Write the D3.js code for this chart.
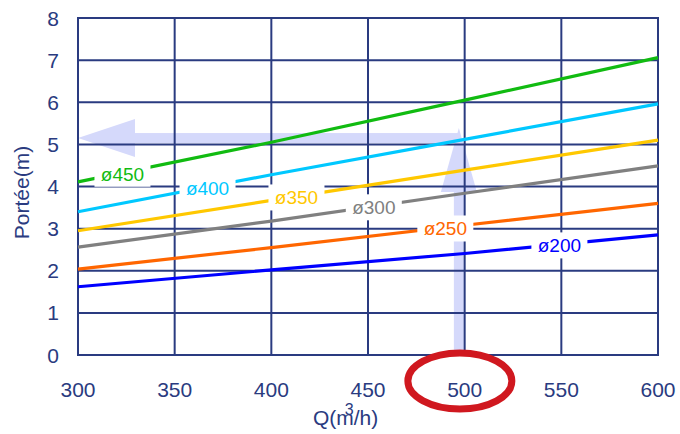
<!DOCTYPE html>
<html>
<head>
<meta charset="utf-8">
<script src="https://cdn.jsdelivr.net/npm/d3@7"></script>
<style>
  body { margin: 0; background: #fff; }
  text { font-family: "Liberation Sans", Arial, sans-serif; }
</style>
</head>
<body>
<svg id="chart" width="680" height="434"></svg>
<script>
const flows = [300, 400, 500, 600]
const diameters = ['ø450', 'ø400', 'ø350', 'ø300', 'ø250', 'ø200']
const colors = ['#11bb11', '#00c8ff', '#ffc800', '#808080', '#ff6600', '#0000ff']
const ranges = [
  [4.11, 5.05, 6.05, 7.06],
  [3.40, 4.28, 5.12, 5.96],
  [2.95, 3.67, 4.39, 5.10],
  [2.56, 3.18, 3.84, 4.49],
  [2.04, 2.55, 3.08, 3.60],
  [1.62, 2.02, 2.41, 2.85]
]
// where each diameter label sits along its line
const labelFlows = [323, 367, 413, 453, 490, 549]
const xTicks = [300, 350, 400, 450, 500, 550, 600]
const yTicks = [0, 1, 2, 3, 4, 5, 6, 7, 8]
const pickFlow = 497
const pickRange = 5.15

const ink = '#2a3b80'
const margin = { left: 78, top: 18, right: 22, bottom: 79 }
const width = 680, height = 434

const svg = d3.select('#chart')
const x = d3.scaleLinear().domain([300, 600]).range([margin.left, width - margin.right])
const y = d3.scaleLinear().domain([0, 8]).range([height - margin.bottom, margin.top])

// reading arrows (behind the grid)
const arrow = svg.append('g').attr('fill', '#d5d9fb')
const ax = x(pickFlow), ay = y(pickRange), y0 = y(0)
arrow.append('rect').attr('x', ax - 5).attr('y', ay + 52).attr('width', 10).attr('height', y0 - ay - 52)
arrow.append('path').attr('d', `M${ax - 18},${ay + 54} L${ax},${ay - 10} L${ax + 18},${ay + 54} Z`)
arrow.append('rect').attr('x', x(300) + 57).attr('y', ay - 5).attr('width', ax + 1 - x(300) - 57).attr('height', 10)
arrow.append('path').attr('d', `M${x(300) + 57},${ay - 19} L${x(300)},${ay} L${x(300) + 57},${ay + 19} Z`)

// grid
const grid = svg.append('g').attr('stroke', ink).attr('stroke-width', 2)
grid.selectAll('.v').data(xTicks).join('line')
  .attr('x1', d => x(d)).attr('x2', d => x(d))
  .attr('y1', y(8)).attr('y2', y(0))
grid.selectAll('.h').data(yTicks).join('line')
  .attr('x1', x(300) - 1).attr('x2', x(600) + 1)
  .attr('y1', d => y(d)).attr('y2', d => y(d))

// lines
const line = d3.line().x((d, i) => x(flows[i])).y(d => y(d))
svg.append('g').selectAll('path').data(ranges).join('path')
  .attr('d', d => line(d))
  .attr('fill', 'none')
  .attr('stroke', (d, i) => colors[i])
  .attr('stroke-width', 3.2)

// labels with white backing
const valueAt = (vals, q) => d3.scaleLinear().domain(flows).range(vals)(q)
const labels = svg.append('g').selectAll('g').data(diameters).join('g')
  .attr('transform', (d, i) => `translate(${x(labelFlows[i])},${y(valueAt(ranges[i], labelFlows[i])) + 1})`)
labels.append('rect')
  .attr('x', -28).attr('y', -13).attr('width', 56).attr('height', 26)
  .attr('fill', '#fff')
labels.append('text')
  .text(d => d)
  .attr('text-anchor', 'middle')
  .attr('dy', '0.36em')
  .attr('font-size', 19)
  .attr('fill', (d, i) => colors[i])

// tick labels
svg.append('g').selectAll('text').data(yTicks).join('text')
  .attr('x', x(300) - 19).attr('y', d => y(d)).attr('dy', '0.36em')
  .attr('text-anchor', 'end').attr('font-size', 21).attr('fill', ink)
  .text(d => d)
svg.append('g').selectAll('text').data(xTicks).join('text')
  .attr('x', d => x(d)).attr('y', y(0) + 42)
  .attr('text-anchor', 'middle').attr('font-size', 21).attr('fill', ink)
  .text(d => d)

// axis titles
svg.append('text')
  .attr('transform', `translate(29,${(y(0) + y(8)) / 2 + 6}) rotate(-90)`)
  .attr('text-anchor', 'middle').attr('font-size', 21).attr('fill', ink)
  .text('Portée(m)')
const qt = svg.append('text')
  .attr('x', 313).attr('y', 425)
  .attr('font-size', 21).attr('fill', ink)
qt.append('tspan').text('Q(m')
qt.append('tspan').attr('dx', -9).attr('dy', -10).attr('font-size', 16).text('3')
qt.append('tspan').attr('dx', 0).attr('dy', 10).text('/h)')

// highlight around 500
svg.append('ellipse')
  .attr('cx', x(pickFlow) + 1).attr('cy', 381)
  .attr('rx', 52).attr('ry', 28)
  .attr('fill', 'none').attr('stroke', '#d0181f').attr('stroke-width', 7)
</script>
</body>
</html>
